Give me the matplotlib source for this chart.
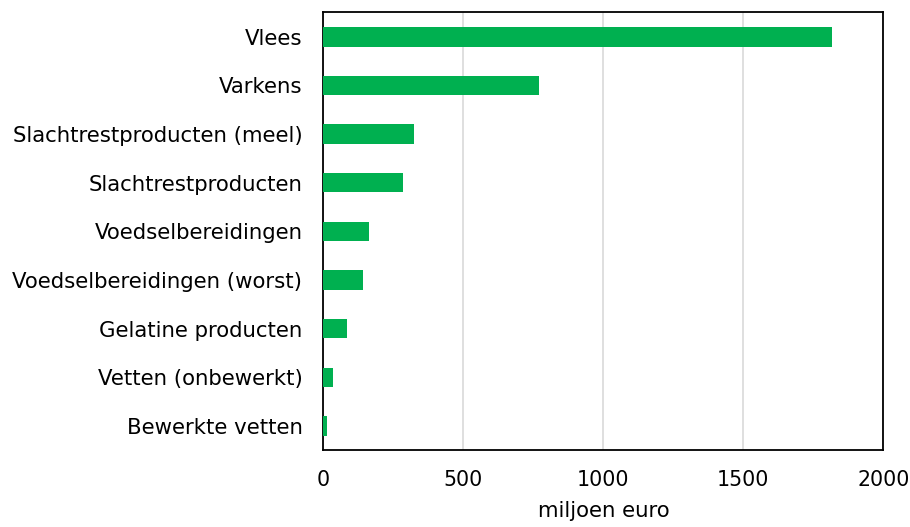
import matplotlib.pyplot as plt
import numpy as np

categories = ["Vlees", "Varkens", "Slachtrestproducten (meel)", "Slachtrestproducten",
              "Voedselbereidingen", "Voedselbereidingen (worst)", "Gelatine producten",
              "Vetten (onbewerkt)", "Bewerkte vetten"]
values = [1817, 772, 325, 285, 164, 142, 86, 33, 13]
xticks = [0, 500, 1000, 1500, 2000]

plt.rcParams['font.family'] = ['DejaVu Sans']

fig = plt.figure(figsize=(9.10, 5.27), dpi=100)
ax = fig.add_axes([0.3553, 0.1455, 0.6154, 0.8308])

y = np.arange(len(categories))
ax.barh(y, values, height=0.4, color='#00B050', zorder=3)
ax.set_yticks(y)
ax.set_yticklabels(categories, fontsize=15.3)
ax.set_ylim(len(categories) - 0.5, -0.5)
ax.set_xlim(0, 2000)
ax.set_xticks(xticks)
ax.set_xticklabels([str(t) for t in xticks], fontsize=14.8)
ax.tick_params(axis='y', length=0, pad=15)
ax.tick_params(axis='x', length=0, pad=14)
ax.grid(axis='x', color='#D9D9D9', linewidth=1.2, zorder=0)
for s in ax.spines.values():
    s.set_color('black')
    s.set_linewidth(1.3)
ax.set_xlabel("miljoen euro", fontsize=15.3, labelpad=8)

fig.savefig('out.png', dpi=100)
